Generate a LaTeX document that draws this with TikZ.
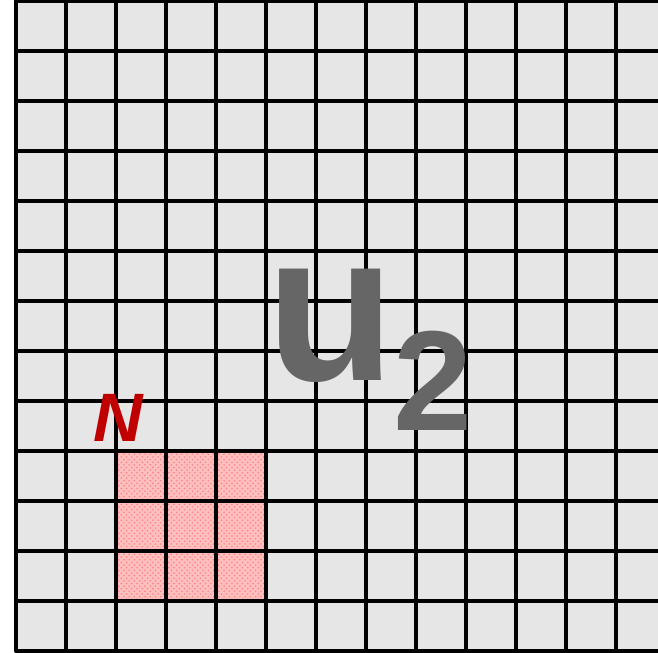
\documentclass[tikz,border=0pt]{standalone}
\usepackage{fontspec}
\setmainfont{Liberation Sans}
\usepackage{xcolor}
\usetikzlibrary{positioning, patterns}

\definecolor{nred}{RGB}{192,0,0}
\definecolor{ugray}{RGB}{102,102,102}
\definecolor{cellgray}{RGB}{230,230,230}

\begin{document}
\begin{tikzpicture}[line join=round, line cap=round,
    gridline/.style={black, line width=1.9pt},
    bigletter/.style={text=ugray, font=\bfseries\fontsize{120}{120}\selectfont, inner sep=0pt},
    bigindex/.style={text=ugray, font=\bfseries\fontsize{81}{81}\selectfont, inner sep=0pt}]

    \useasboundingbox (-0.32,-0.02) rectangle (12.84,13.02);
    \clip (-0.32,-0.02) rectangle (12.84,13.02);

    % Background cells
    \fill[cellgray] (0,0) rectangle (13,13);

    % Neighbourhood (pink, dotted)
    \fill[red!25] (2,1) rectangle (5,4);
    \fill[pattern=crosshatch dots, pattern color=red!50] (2,1) rectangle (5,4);

    % Grid
    \draw[gray, line width=2.6pt] (0,13) -- (0,0) -- (13,0);
    \draw[gridline] (0,0) grid (13,13);

    % Labels
    \node[text=nred, font=\bfseries\itshape\fontsize{39}{39}\selectfont, inner sep=0pt] (nlabel) at (2.04,4.66) {N};
    \node[bigletter] (ulabel) at (6.3,6.5) {u};
    \node[bigindex] (idxlabel) at (8.34,5.4) {2};
  \end{tikzpicture}
\end{document}
